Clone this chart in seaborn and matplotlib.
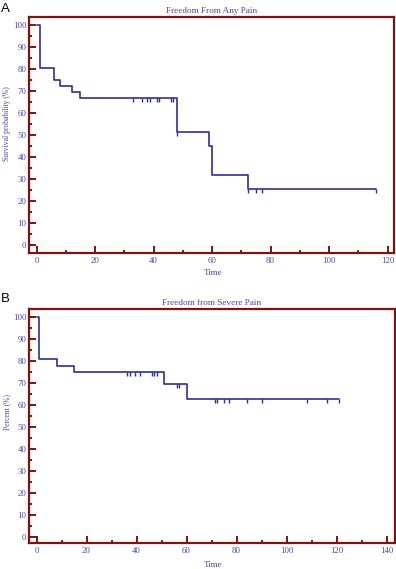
import matplotlib
matplotlib.use("Agg")
import matplotlib.pyplot as plt
import pandas as pd
import seaborn as sns
from matplotlib.ticker import MultipleLocator

# ---------------- data ----------------
# Panel A: Freedom From Any Pain (Kaplan-Meier steps)
times_a = [0, 1, 6, 8, 12, 15, 48, 59, 60, 72.3, 116]
surv_a = [100, 80.6, 75.0, 72.2, 69.4, 66.7, 51.3, 45.0, 32.1, 25.7, 25.7]
cens_t_a = [32.9, 36.0, 37.9, 38.8, 41.1, 42.0, 45.9, 46.8, 48.0, 72.3, 75.1, 77.0, 116]
cens_s_a = [66.7, 66.7, 66.7, 66.7, 66.7, 66.7, 66.7, 66.7, 51.3, 25.7, 25.7, 25.7, 25.7]

# Panel B: Freedom from Severe Pain
times_b = [0, 1, 8.3, 14.9, 51.1, 60.1, 121]
surv_b = [100, 80.6, 77.8, 75.0, 69.6, 62.8, 62.8]
cens_t_b = [36.2, 37.5, 39.3, 41.3, 46.0, 47.0, 48.0, 56.0, 57.0,
            71.3, 72.3, 74.9, 77.0, 84.2, 90.2, 108.0, 116.0, 121.0]
cens_s_b = [75.0] * 7 + [69.6] * 2 + [62.8] * 9

title_a = "Freedom From Any Pain"
title_b = "Freedom from Severe Pain"
ylabel_a = "Survival probability (%)"
ylabel_b = "Percent (%)"
xlabel = "Time"

# ---------------- style ----------------
sns.set_theme(style="white")
plt.rcParams['font.family'] = ['Liberation Serif', 'DejaVu Serif']

SPINE = "#7d1414"
TXT = "#4646aa"
LINE = "#2f2f98"

fig = plt.figure(figsize=(3.96, 5.69), dpi=100)
W, H = 396, 569
axA = fig.add_axes([29 / W, 1 - 253 / H, 365 / W, 236 / H])
axB = fig.add_axes([29 / W, 1 - 543 / H, 366 / W, 234.3 / H])


def draw(ax, t, s, ct, cs):
    df = pd.DataFrame({"t": t, "s": s})
    sns.lineplot(data=df, x="t", y="s", ax=ax, drawstyle="steps-post",
                 color=LINE, linewidth=1.2, estimator=None, sort=True)
    dc = pd.DataFrame({"t": ct, "s": cs})
    sns.scatterplot(data=dc, x="t", y="s", ax=ax, marker=3, s=10,
                    color=LINE, linewidth=1.0, zorder=3)


def style(ax, xlim, ylim, xmajor, title, ylab, ylab_y, xlab_y):
    ax.set_xlim(*xlim)
    ax.set_ylim(*ylim)
    ax.grid(False)
    for sp in ax.spines.values():
        sp.set_visible(True)
        sp.set_color(SPINE)
        sp.set_linewidth(1.6)
    ax.xaxis.set_major_locator(MultipleLocator(xmajor))
    ax.xaxis.set_minor_locator(MultipleLocator(xmajor / 2))
    ax.yaxis.set_major_locator(MultipleLocator(10))
    ax.yaxis.set_minor_locator(MultipleLocator(5))
    ax.tick_params(which="both", direction="in", color=SPINE, width=1.4,
                   labelcolor=TXT, labelsize=6.3, bottom=True, left=True,
                   top=False, right=False)
    ax.tick_params(which="major", length=5)
    ax.tick_params(which="minor", length=2.5)
    ax.tick_params(axis="y", pad=2)
    ax.tick_params(axis="x", pad=3)
    ax.set_title(title, color=TXT, fontsize=6.6, pad=3)
    ax.set_xlabel(xlabel, color=TXT, fontsize=6.5)
    ax.set_ylabel(ylab, color=TXT, fontsize=5.5)
    ax.yaxis.set_label_coords(-0.048, ylab_y)
    ax.xaxis.set_label_coords(0.504, xlab_y)


draw(axA, times_a, surv_a, cens_t_a, cens_s_a)
style(axA, (-2.6, 122.2), (-3.5, 103.6), 20, title_a, ylabel_a, 0.547, -0.068)
draw(axB, times_b, surv_b, cens_t_b, cens_s_b)
style(axB, (-3.0, 143.4), (-2.7, 103.6), 20, title_b, ylabel_b, 0.559, -0.077)

fig.text(1 / W, 1 - 8.5 / H, "A", fontsize=9.5, va="center", ha="left",
         color="black", family=["Liberation Sans", "DejaVu Sans"])
fig.text(1 / W, 1 - 299 / H, "B", fontsize=9.5, va="center", ha="left",
         color="black", family=["Liberation Sans", "DejaVu Sans"])

fig.savefig("out.png", dpi=100, facecolor="white")
